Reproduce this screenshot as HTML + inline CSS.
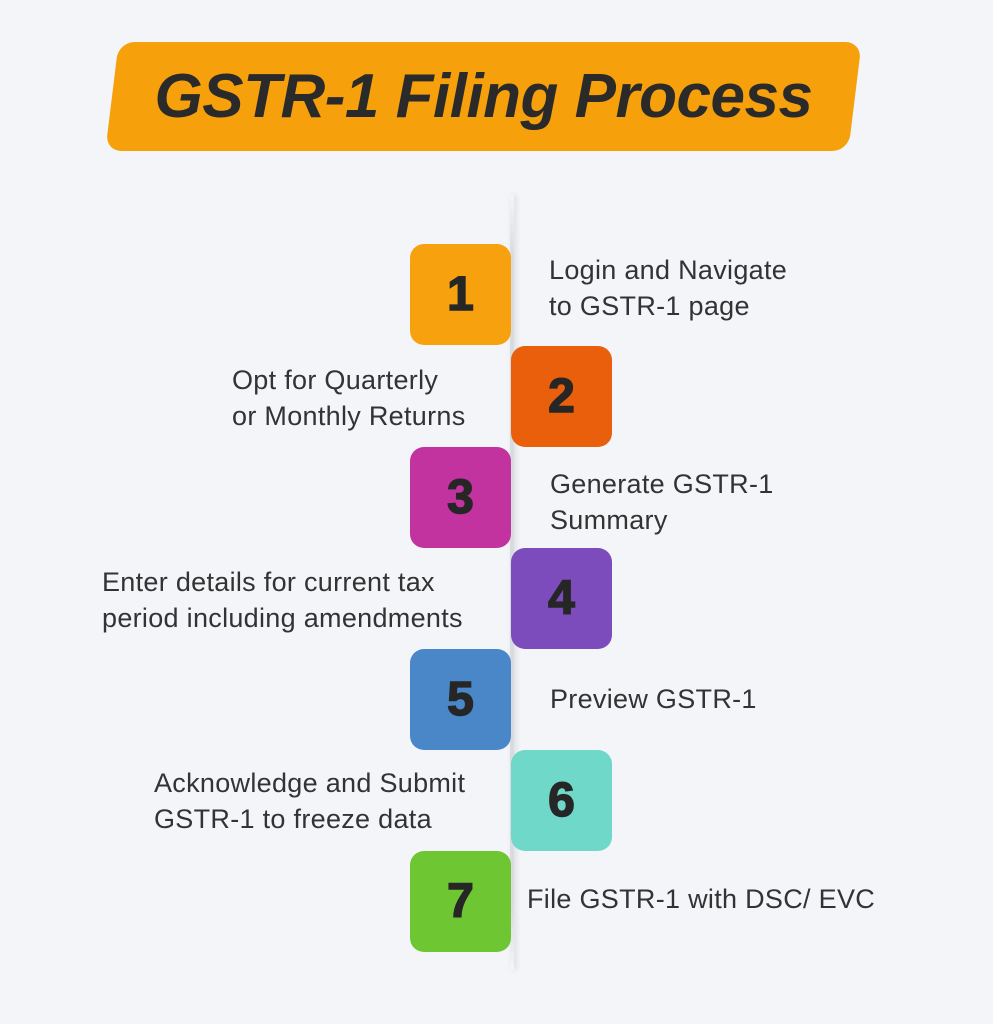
<!DOCTYPE html>
<html><head><style>
body{margin:0;width:993px;height:1024px;background:#f3f5f8;position:relative;overflow:hidden;font-family:"Liberation Sans",sans-serif;}
.banner{position:absolute;left:112px;top:42px;width:743px;height:109px;background:#f6a00c;border-radius:16px;transform:skewX(-7deg);}
.title{position:absolute;left:105px;top:42px;width:757px;height:109px;line-height:109px;text-align:center;font-weight:bold;font-style:italic;font-size:62px;color:#2a2a2a;letter-spacing:-0.5px;}
.line{position:absolute;left:510px;top:195px;width:4px;height:775px;background:linear-gradient(#f3f5f8,#d8dbe0 8%,#d8dbe0 92%,#f3f5f8);box-shadow:2px 0 6px rgba(0,0,0,0.12);}
.b{position:absolute;width:101px;height:101px;border-radius:14px;font-family:"Liberation Sans",sans-serif;font-weight:bold;font-size:48px;color:#262626;display:flex;align-items:center;justify-content:center;-webkit-text-stroke:1.5px #262626;}
.t{position:absolute;font-size:27px;color:#333;line-height:36px;letter-spacing:0.3px;white-space:nowrap;}
</style></head><body>
<div class="banner"></div>
<div class="title">GSTR-1 Filing Process</div>
<div class="line"></div>
<div class="b" style="left:410px;top:244px;background:#f7a10e">1</div>
<div class="b" style="left:511px;top:346px;background:#ea5f0c">2</div>
<div class="b" style="left:410px;top:447px;background:#c2339f">3</div>
<div class="b" style="left:511px;top:548px;background:#7c4cbd">4</div>
<div class="b" style="left:410px;top:649px;background:#4a87c9">5</div>
<div class="b" style="left:511px;top:750px;background:#70d8c9">6</div>
<div class="b" style="left:410px;top:851px;background:#6ec633">7</div>
<div class="t" style="left:549px;top:252px">Login and Navigate<br>to GSTR-1 page</div>
<div class="t" style="left:232px;top:362px">Opt for Quarterly<br>or Monthly Returns</div>
<div class="t" style="left:550px;top:466px">Generate GSTR-1<br>Summary</div>
<div class="t" style="left:102px;top:564px">Enter details for current tax<br>period including amendments</div>
<div class="t" style="left:550px;top:681px">Preview GSTR-1</div>
<div class="t" style="left:154px;top:765px">Acknowledge and Submit<br>GSTR-1 to freeze data</div>
<div class="t" style="left:527px;top:881px">File GSTR-1 with DSC/ EVC</div>
</body></html>
